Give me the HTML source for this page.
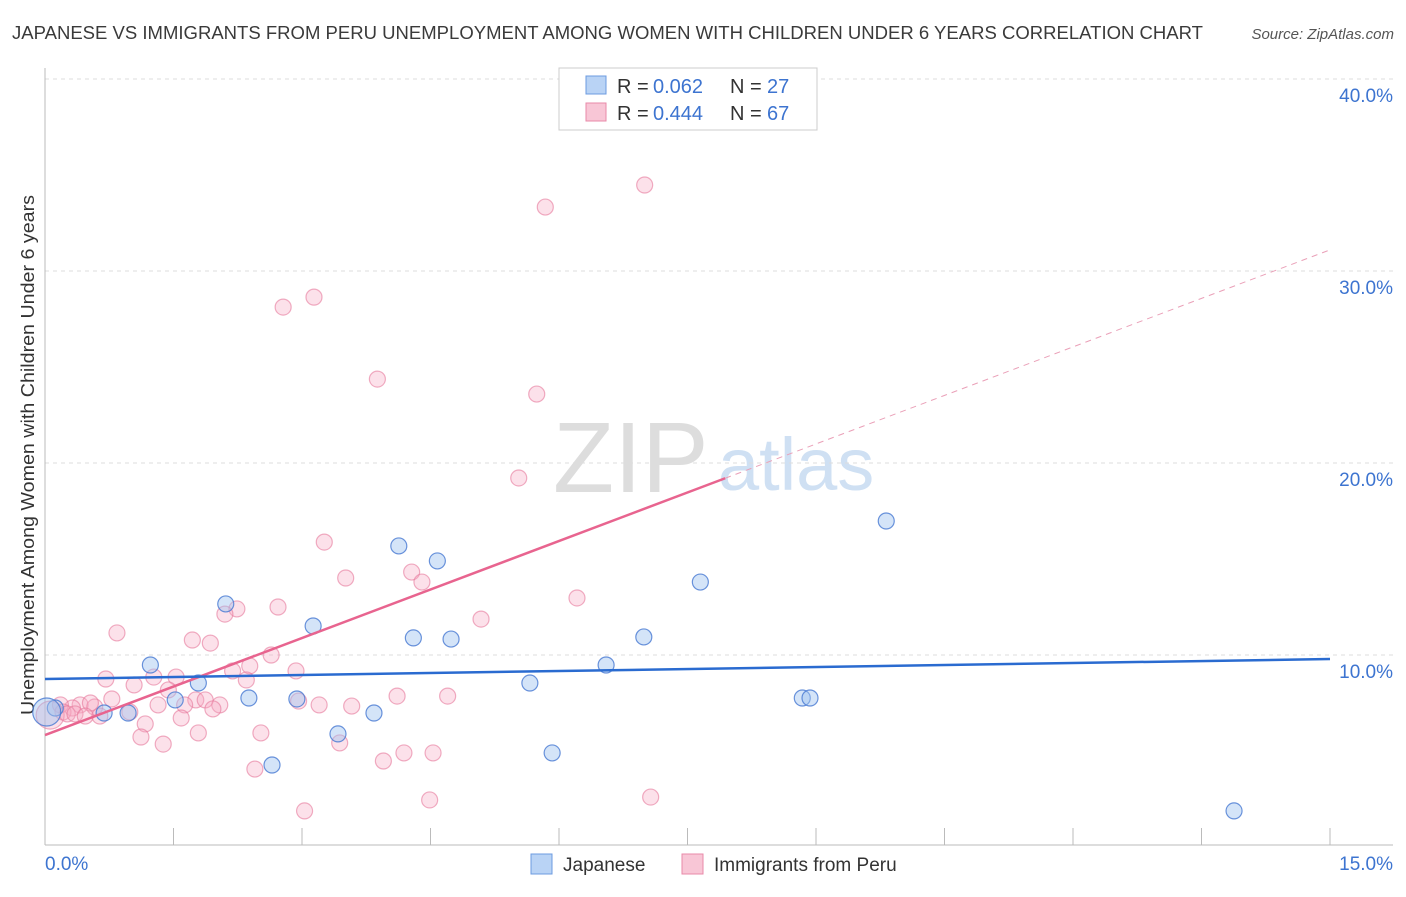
<!DOCTYPE html>
<html><head><meta charset="utf-8"><style>
body{margin:0;background:#fff;font-family:"Liberation Sans",sans-serif}
svg text{font-family:"Liberation Sans",sans-serif}
</style></head><body>
<svg id="chart" width="1406" height="892" xmlns="http://www.w3.org/2000/svg">
<text x="12" y="39" font-size="18" fill="#3a3a3a" textLength="1191" lengthAdjust="spacingAndGlyphs">JAPANESE VS IMMIGRANTS FROM PERU UNEMPLOYMENT AMONG WOMEN WITH CHILDREN UNDER 6 YEARS CORRELATION CHART</text>
<text x="1394" y="39" font-size="15" fill="#555" font-style="italic" text-anchor="end">Source: ZipAtlas.com</text>
<text transform="translate(34,455) rotate(-90)" font-size="18" fill="#333" text-anchor="middle" textLength="520" lengthAdjust="spacingAndGlyphs">Unemployment Among Women with Children Under 6 years</text>
<g><text x="553" y="492" font-size="100" fill="#ddd" font-family="Liberation Serif">ZIP</text><text x="718" y="490" font-size="74" fill="#cfe0f3">atlas</text></g>
<g id="grid"></g><g id="axes"></g><g id="marks"></g>
<g>
<rect x="559" y="68" width="258" height="62" fill="#fff" stroke="#ccc"/>
<rect x="586" y="76" width="20" height="18" fill="#b9d3f5" stroke="#6c9be0"/>
<rect x="586" y="103" width="20" height="18" fill="#f8c6d6" stroke="#e88aa8"/>
<text x="617" y="93" font-size="20" fill="#333">R = </text><text x="653" y="93" font-size="20" fill="#3d74d0">0.062</text>
<text x="730" y="93" font-size="20" fill="#333">N = </text><text x="767" y="93" font-size="20" fill="#3d74d0">27</text>
<text x="617" y="120" font-size="20" fill="#333">R = </text><text x="653" y="120" font-size="20" fill="#3d74d0">0.444</text>
<text x="730" y="120" font-size="20" fill="#333">N = </text><text x="767" y="120" font-size="20" fill="#3d74d0">67</text>
</g>
<g>
<rect x="531" y="854" width="21" height="20" fill="#b9d3f5" stroke="#6c9be0"/>
<text x="563" y="871" font-size="19" fill="#333">Japanese</text>
<rect x="682" y="854" width="21" height="20" fill="#f8c6d6" stroke="#e88aa8"/>
<text x="714" y="871" font-size="19" fill="#333">Immigrants from Peru</text>
</g>
</svg>
<script>
const yTicks=[10,20,30,40];
const yTickLabels=["10.0%","20.0%","30.0%","40.0%"];
const xTickLabels=["0.0%","15.0%"];
const japX=[1.23,2.11,1.79,1.52,2.38,2.94,3.13,3.42,3.84,4.13,4.30,4.58,4.74,5.66,5.92,6.55,6.99,7.65,8.84,8.93,9.82,2.65,13.88,0.97,0.69,0.12,0.02];
const japY=[9.48,12.66,8.54,7.66,7.76,7.71,11.51,5.89,6.98,15.68,10.89,14.90,10.83,8.54,4.90,9.48,10.94,13.80,7.76,7.76,16.98,4.27,1.88,6.98,6.98,7.24,7.03];
const peruX=[7.00,5.84,3.14,2.78,3.88,5.74,5.53,3.26,3.51,4.28,4.40,6.21,5.09,2.72,2.24,2.10,0.84,1.72,1.93,2.64,2.39,2.93,2.19,1.53,1.27,0.71,1.04,2.35,1.44,1.76,2.04,1.87,0.78,0.41,0.58,0.53,0.32,0.18,0.21,0.64,0.99,1.17,1.32,1.63,1.59,1.96,2.96,3.20,3.58,4.11,4.70,1.12,1.79,1.38,2.52,3.44,2.45,3.95,4.19,4.53,3.03,4.49,7.07,0.06,0.26,0.35,0.47];
const peruY=[34.48,33.33,28.64,28.12,24.37,23.59,19.22,15.88,14.01,14.32,13.80,12.97,11.87,12.50,12.40,12.13,11.15,10.78,10.62,10.00,9.43,9.17,9.17,8.85,8.85,8.75,8.44,8.70,8.18,7.66,7.40,7.66,7.71,7.40,7.29,7.50,7.24,7.40,7.03,6.82,7.03,6.41,7.40,7.40,6.72,7.19,7.60,7.40,7.34,7.86,7.86,5.73,5.94,5.36,5.94,5.42,4.06,4.48,4.90,4.90,1.88,2.45,2.60,6.87,6.93,6.93,6.82];
const japTrend=[8.75,9.79];
const peruTrend=[5.83,31.1];
const NS="http://www.w3.org/2000/svg";
const X0=45,X1=1330,Y0=847;
function sx(v){return X0+v/15*(X1-X0);}
function sy(v){return Y0-v*19.2;}
function mk(t,a,p){const e=document.createElementNS(NS,t);for(const k in a)e.setAttribute(k,a[k]);document.getElementById(p).appendChild(e);return e;}
yTicks.forEach((t,i)=>{
 const g=mk('line',{x1:45,x2:1393,y1:sy(t),y2:sy(t),stroke:'#ddd','stroke-dasharray':'4,4'},'grid');
 
 
 const l=mk('text',{x:1393,y:sy(t)+23,'font-size':19,fill:'#3d74d0','text-anchor':'end'},'axes');
 l.textContent=yTickLabels[i];
 
 
});
mk('line',{x1:45,x2:45,y1:68,y2:845,stroke:'#bbb'},'axes');
mk('line',{x1:45,x2:1393,y1:845,y2:845,stroke:'#bbb'},'axes');
for(let k=1;k<=10;k++){const x=X0+k*(X1-X0)/10;mk('line',{x1:x,x2:x,y1:828,y2:845,stroke:'#bbb'},'axes');}
[[xTickLabels[0],45,'start'],[xTickLabels[1],1393,'end']].forEach(a=>{const t=mk('text',{x:a[1],y:870,'font-size':19,fill:'#3d74d0','text-anchor':a[2]},'axes');t.textContent=a[0];
 
 });
function dots(xs,ys,fill,stroke,name,big){xs.forEach((x,i)=>{const r=(i===big)?14:8;const c=mk('circle',{cx:sx(x),cy:sy(ys[i]),r:r,fill:fill,stroke:stroke,'stroke-width':1.2},'marks');
 
 });}
dots(peruX,peruY,'rgba(245,170,195,0.35)','rgba(230,120,155,0.6)','peru-point',63);
dots(japX,japY,'rgba(160,195,240,0.45)','rgba(70,120,210,0.8)','japanese-point',26);
const xSolidEnd=7.94;
const yEnd=peruTrend[0]+(peruTrend[1]-peruTrend[0])*xSolidEnd/15;
const pl=mk('line',{x1:sx(0),y1:sy(peruTrend[0]),x2:sx(xSolidEnd),y2:sy(yEnd),stroke:'#e8648f','stroke-width':2.5},'marks');


const pd=mk('line',{x1:sx(xSolidEnd),y1:sy(yEnd),x2:sx(15),y2:sy(peruTrend[1]),stroke:'#eaa0b8','stroke-width':1,'stroke-dasharray':'6,5'},'marks');


const jl=mk('line',{x1:sx(0),y1:sy(japTrend[0]),x2:sx(15),y2:sy(japTrend[1]),stroke:'#2a6bd0','stroke-width':2.5},'marks');


</script>
</body></html>
